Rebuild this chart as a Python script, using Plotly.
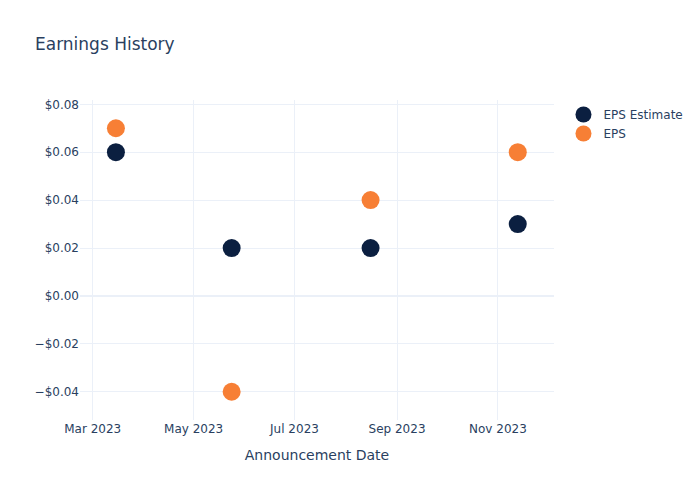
import plotly.graph_objects as go

dates = ["2023-03-15", "2023-05-24", "2023-08-16", "2023-11-13"]
eps_estimate = [0.06, 0.02, 0.02, 0.03]
eps_actual = [0.07, -0.04, 0.04, 0.06]

fig = go.Figure()
fig.add_trace(go.Scatter(x=dates, y=eps_estimate, mode="markers", name="EPS Estimate",
                         marker=dict(color="#0b1f40", size=18)))
fig.add_trace(go.Scatter(x=dates, y=eps_actual, mode="markers", name="EPS",
                         marker=dict(color="#f77f35", size=18)))
fig.update_layout(
    template="plotly_white",
    width=700, height=500,
    font=dict(family="DejaVu Sans"),
    title=dict(text="Earnings History"),
    xaxis=dict(title=dict(text="Announcement Date"), dtick="M2", tickformat="%b %Y",
               range=["2023-02-21 07:00", "2023-12-04 22:00"]),
    yaxis=dict(tickformat="$.2f", range=[-0.0518, 0.0818]),
)
fig.write_html("out.html")
